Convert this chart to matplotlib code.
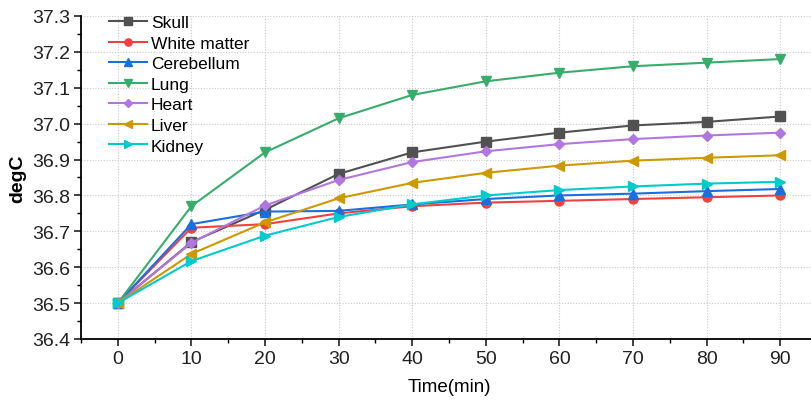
import matplotlib
matplotlib.use("Agg")
import matplotlib.pyplot as plt
from matplotlib.ticker import MultipleLocator

time = [0, 10, 20, 30, 40, 50, 60, 70, 80, 90]
skull = [36.5, 36.67, 36.76, 36.86, 36.92, 36.95, 36.975, 36.995, 37.005, 37.02]
white_matter = [36.5, 36.71, 36.72, 36.75, 36.77, 36.78, 36.785, 36.79, 36.795, 36.80]
cerebellum = [36.5, 36.72, 36.755, 36.757, 36.775, 36.79, 36.80, 36.805, 36.812, 36.818]
lung = [36.5, 36.77, 36.92, 37.015, 37.08, 37.118, 37.142, 37.16, 37.17, 37.18]
heart = [36.5, 36.668, 36.772, 36.843, 36.893, 36.923, 36.943, 36.957, 36.967, 36.975]
liver = [36.5, 36.637, 36.725, 36.792, 36.835, 36.863, 36.883, 36.897, 36.905, 36.912]
kidney = [36.5, 36.617, 36.688, 36.74, 36.775, 36.80, 36.815, 36.825, 36.833, 36.838]

names = ["Skull", "White matter", "Cerebellum", "Lung", "Heart", "Liver", "Kidney"]
series = [skull, white_matter, cerebellum, lung, heart, liver, kidney]
colors = ["#515151", "#F14040", "#1A6FDF", "#37AD6B", "#B177DE", "#CC9900", "#00CBCC"]
markers = ["s", "o", "^", "v", "D", "<", ">"]

plt.rcParams['font.family'] = ['Liberation Sans', 'DejaVu Sans']

fig = plt.figure(figsize=(8.12, 4.02), dpi=100)
ax = fig.add_axes([81/812, 1-340/402, (817-81)/812, (340-17)/402])

for name, ys, c, m in zip(names, series, colors, markers):
    ms = 5.5 if m == "D" else 6.5
    ax.plot(time, ys, color=c, marker=m, markersize=ms, linewidth=1.5, label=name)

ax.set_xlim(-5, 95)
ax.set_ylim(36.4, 37.3)
ax.xaxis.set_major_locator(MultipleLocator(10))
ax.xaxis.set_minor_locator(MultipleLocator(5))
ax.yaxis.set_major_locator(MultipleLocator(0.1))
ax.yaxis.set_minor_locator(MultipleLocator(0.05))
ax.yaxis.set_major_formatter(matplotlib.ticker.FormatStrFormatter('%.1f'))

ax.spines['top'].set_visible(False)
ax.spines['right'].set_visible(False)
ax.spines['left'].set_linewidth(1.3)
ax.spines['bottom'].set_linewidth(1.3)
ax.tick_params(axis='both', which='major', direction='out', length=5, width=1.2, labelsize=14, colors='#222222', pad=3)
ax.tick_params(axis='both', which='minor', direction='out', length=3, width=1.0)
ax.grid(True, which='major', linestyle=(0, (1, 1.5)), color='#c8c8c8', linewidth=0.8)
ax.set_axisbelow(True)

ax.set_xlabel("Time(min)", fontsize=13.5, labelpad=8)
ax.set_ylabel("degC", fontsize=14, labelpad=4, fontweight='bold')

leg = ax.legend(loc='upper left', bbox_to_anchor=(0.028, 1.024), frameon=False, fontsize=12.5,
                handlelength=2.2, labelspacing=0.31, handletextpad=0.25, borderaxespad=0,
                markerscale=0.8)

fig.savefig("out.png", dpi=100)
